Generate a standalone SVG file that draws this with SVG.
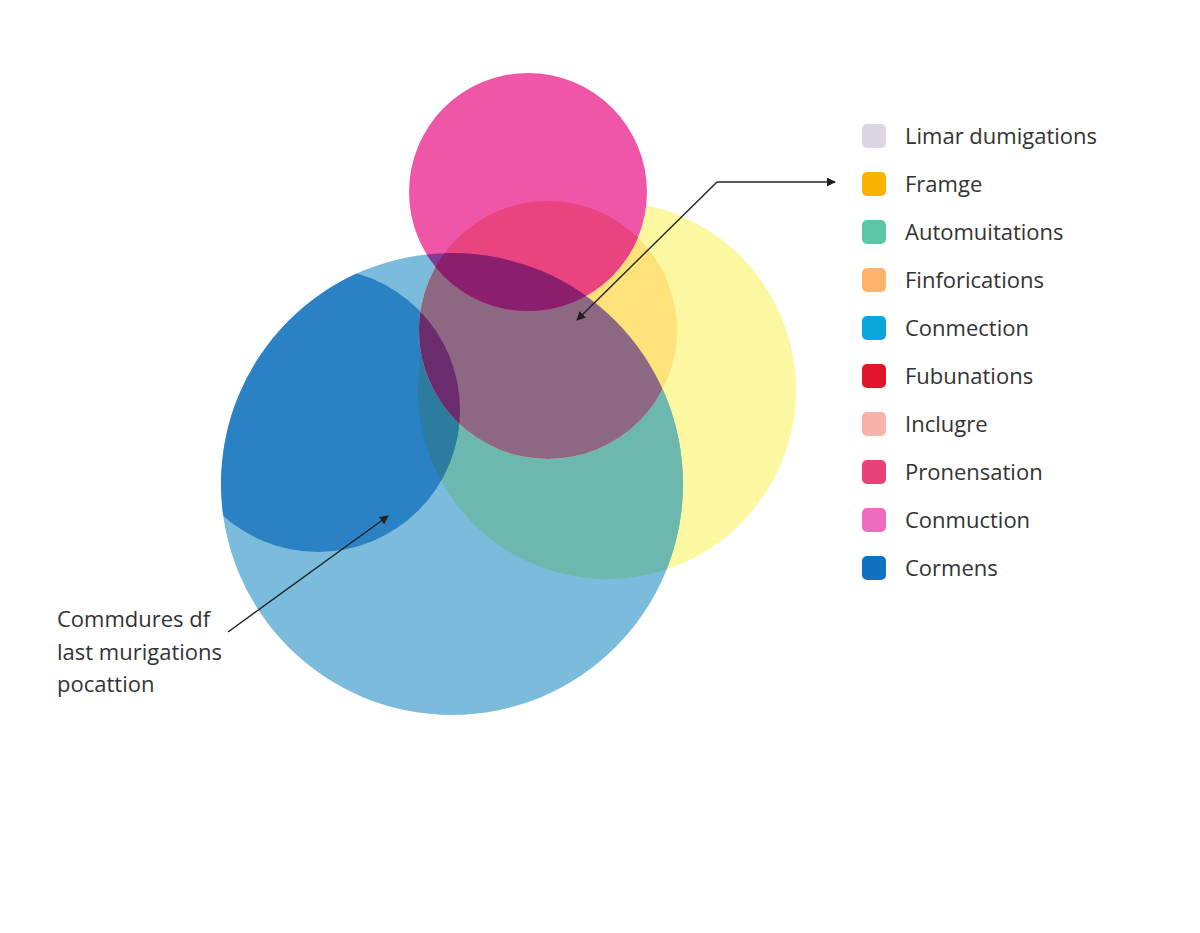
<svg xmlns="http://www.w3.org/2000/svg" width="1200" height="933" viewBox="0 0 1200 933">
<style>
.lg{font-family:"Open Sans","Noto Sans",sans-serif;font-size:22px;fill:#333;}
.sw{stroke:none;}
.ln{fill:none;stroke:#222;stroke-width:1.4;}
</style>
<defs>
<clipPath id="cB"><circle cx="452" cy="484" r="231"/></clipPath>
<clipPath id="cY"><circle cx="607" cy="390" r="189"/></clipPath>
<clipPath id="cD"><circle cx="318" cy="410" r="142"/></clipPath>
<clipPath id="cM"><circle cx="548" cy="330" r="129"/></clipPath>
<marker id="ah" viewBox="0 0 10 10" refX="9" refY="5" markerWidth="9" markerHeight="9" orient="auto" markerUnits="userSpaceOnUse">
<path d="M0,0 L10,5 L0,10 z" fill="#222"/>
</marker>
</defs>
<rect width="1200" height="933" fill="#ffffff"/>
<g id="venn">
<circle id="yellow" cx="607" cy="390" r="189" fill="#FBF8A1"/>
<circle id="blue" cx="452" cy="484" r="231" fill="#7BBBDB"/>
<g clip-path="url(#cB)"><circle cx="607" cy="390" r="189" fill="#6CB8AE"/></g>
<g clip-path="url(#cB)"><circle id="darkblue" cx="318" cy="410" r="142" fill="#2A82C4"/></g>
<g clip-path="url(#cB)"><g clip-path="url(#cD)"><circle cx="607" cy="390" r="189" fill="#2B7C9E"/></g></g>
<circle id="mid" cx="548" cy="330" r="129" fill="#FDE27A"/>
<g clip-path="url(#cB)"><circle cx="548" cy="330" r="129" fill="#8D6882"/></g>
<g clip-path="url(#cB)"><g clip-path="url(#cD)"><circle cx="548" cy="330" r="129" fill="#6A2C6C"/></g></g>
<circle id="pink" cx="528" cy="192" r="119" fill="#F056A8"/>
<g clip-path="url(#cM)"><circle cx="528" cy="192" r="119" fill="#E9447F"/></g>
<g clip-path="url(#cB)"><circle cx="528" cy="192" r="119" fill="#7E3A94"/></g>
<g clip-path="url(#cB)"><g clip-path="url(#cM)"><circle cx="528" cy="192" r="119" fill="#8C1E6E"/></g></g>
</g>
<g id="connectors">
<polyline class="ln" points="717,182 577,320" marker-end="url(#ah)"/>
<polyline class="ln" points="717,182 835,182" marker-end="url(#ah)"/>
<line class="ln" x1="228" y1="632" x2="388" y2="516" marker-end="url(#ah)"/>
</g>
<g id="annotation">
<text class="lg" x="57" y="627">Commdures df</text>
<text class="lg" x="57" y="660">last murigations</text>
<text class="lg" x="57" y="692">pocattion</text>
</g>
<g id="legend">
<g id="leg1"><rect class="sw" x="862" y="124" width="24" height="24" rx="5" fill="#DCD6E2"/><text class="lg" x="905" y="144">Limar dumigations</text></g>
<g id="leg2"><rect class="sw" x="862" y="172" width="24" height="24" rx="5" fill="#F8B200"/><text class="lg" x="905" y="192">Framge</text></g>
<g id="leg3"><rect class="sw" x="862" y="220" width="24" height="24" rx="5" fill="#5CC7A6"/><text class="lg" x="905" y="240">Automuitations</text></g>
<g id="leg4"><rect class="sw" x="862" y="268" width="24" height="24" rx="5" fill="#FCB36C"/><text class="lg" x="905" y="288">Finforications</text></g>
<g id="leg5"><rect class="sw" x="862" y="316" width="24" height="24" rx="5" fill="#0BA6D9"/><text class="lg" x="905" y="336">Conmection</text></g>
<g id="leg6"><rect class="sw" x="862" y="364" width="24" height="24" rx="5" fill="#E0152A"/><text class="lg" x="905" y="384">Fubunations</text></g>
<g id="leg7"><rect class="sw" x="862" y="412" width="24" height="24" rx="5" fill="#F9B2AA"/><text class="lg" x="905" y="432">Inclugre</text></g>
<g id="leg8"><rect class="sw" x="862" y="460" width="24" height="24" rx="5" fill="#E8417A"/><text class="lg" x="905" y="480">Pronensation</text></g>
<g id="leg9"><rect class="sw" x="862" y="508" width="24" height="24" rx="5" fill="#EE6CC0"/><text class="lg" x="905" y="528">Conmuction</text></g>
<g id="leg10"><rect class="sw" x="862" y="556" width="24" height="24" rx="5" fill="#1171C1"/><text class="lg" x="905" y="576">Cormens</text></g>
</g>
</svg>
